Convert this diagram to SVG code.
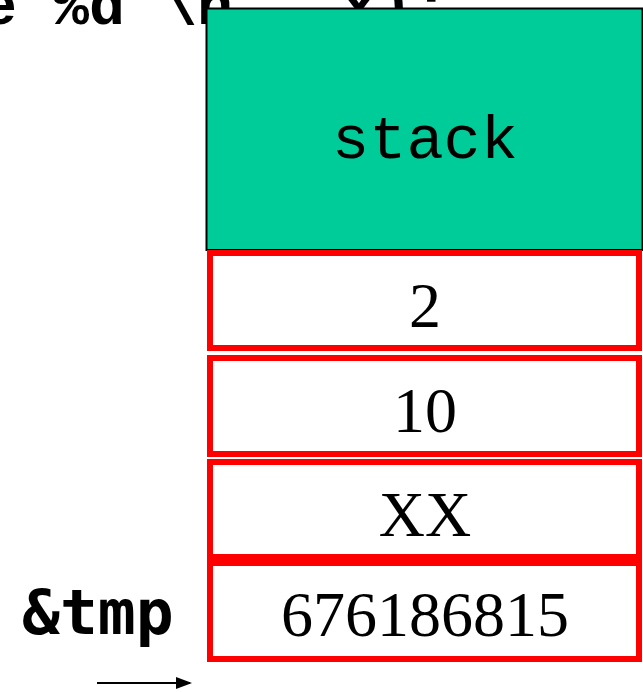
<svg xmlns="http://www.w3.org/2000/svg" width="643" height="692" viewBox="0 0 643 692">
<style>
.cell{fill:#fff;stroke:#ff0000;stroke-width:6}
.val{font-family:"Liberation Serif",serif;font-size:64px;fill:#000;text-anchor:middle}
</style>
<defs>
<marker id="ah" markerWidth="8" markerHeight="6" refX="7" refY="3" orient="auto" markerUnits="strokeWidth">
<path d="M0,0 L8,3 L0,6 z" fill="#000"/>
</marker>
</defs>
<rect width="643" height="692" fill="#fff"/>
<g id="code">
<text x="-19" y="24" font-family="'Liberation Mono',monospace" font-weight="bold" font-size="60" fill="#000">e %d \n", x);</text>
</g>
<g id="stack">
<rect x="206.5" y="8.5" width="436" height="241.5" fill="#00cc99" stroke="#000" stroke-width="2"/>
<text x="425" y="158" font-family="'Liberation Mono',monospace" font-size="62" text-anchor="middle" fill="#000">stack</text>
</g>
<g id="cell-2">
<rect class="cell" x="210" y="253" width="429" height="95"/>
<text class="val" x="425" y="327">2</text>
</g>
<g id="cell-10">
<rect class="cell" x="210" y="358" width="429" height="96"/>
<text class="val" x="425" y="432">10</text>
</g>
<g id="cell-xx">
<rect class="cell" x="210" y="462" width="429" height="95"/>
<text class="val" x="425" y="536">XX</text>
</g>
<g id="cell-tmp">
<rect class="cell" x="210" y="563" width="429" height="96"/>
<text class="val" x="425" y="636">676186815</text>
</g>
<g id="label-tmp">
<text x="22" y="634" font-family="'DejaVu Sans Mono',monospace" font-weight="bold" font-size="63" fill="#000">&amp;tmp</text>
</g>
<g id="connectors">
<line x1="97" y1="683" x2="190" y2="683" stroke="#000" stroke-width="2" marker-end="url(#ah)"/>
</g>
</svg>
